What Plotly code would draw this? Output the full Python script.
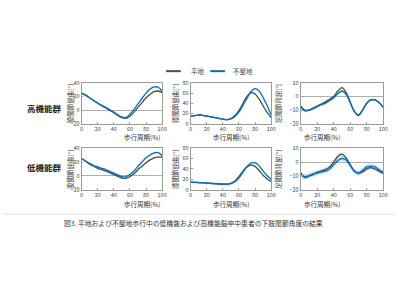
import plotly.graph_objects as go

# ---------------- data ----------------
cycle = [0, 5, 10, 15, 20, 25, 30, 35, 40, 45, 50, 55, 60, 65, 70, 75, 80, 85, 90, 95, 100]
x_ticks = [0, 20, 40, 60, 80, 100]

series_names = ["平地", "不整地"]
row_labels = ["高機能群", "低機能群"]
y_titles = ["股関節屈曲[°]", "膝関節屈曲[°]", "足関節背屈[°]"]
y_ranges = [[-20, 40], [0, 80], [-20, 10]]
y_ticks = [[-20, 0, 20, 40], [0, 20, 40, 60, 80], [-20, -10, 0, 10]]

# high function group
hi_hip_flat = [25, 22, 18, 14, 10, 6.5, 3, -0.5, -4, -8, -11, -12, -9, -3, 4, 11, 18, 23, 27, 28, 26]
hi_hip_rough = [25, 22, 18, 14, 10.5, 7, 4, 0.5, -3, -7, -10, -11, -6, 1, 9, 17, 25, 31, 34, 33.5, 28]
hi_knee_flat = [15, 16, 17, 16.5, 15, 13.5, 12, 10.5, 9, 8, 10, 16, 26, 40, 54, 61, 58, 48, 35, 22, 12]
hi_knee_rough = [15, 16, 17, 16.5, 15, 13.5, 12, 10.5, 9, 8, 9.5, 14, 23, 36, 50, 63, 68.5, 64, 51, 35, 17]
hi_ankle_flat = [-7.5, -10.5, -10, -8.5, -7, -5.5, -4, -2, 0, 4, 6.5, 3, -4, -11, -14, -10, -5, -2.5, -2.5, -4.5, -8]
hi_ankle_rough = [-7, -10, -10, -9, -7.5, -6, -5, -3, -1, 2, 4, 1.5, -4.5, -11, -13.5, -10, -5, -2.5, -2.5, -4.5, -8]

# low function group
lo_hip_flat = [25, 21, 17, 14, 11, 9, 7, 4.5, 2, -0.5, -3, -3.5, -1, 3, 9, 14, 19, 23, 26, 27, 27]
lo_hip_rough = [25, 21.5, 18, 15, 13, 11, 9, 6.5, 4, 1.5, -1, -1, 2, 7, 14, 20, 26, 30, 33, 33.5, 29]
lo_knee_flat = [15, 14.5, 14, 13.5, 13, 12.5, 12, 11.5, 11, 11, 12.5, 17, 26, 36, 44, 47.5, 45, 37, 28, 21, 16]
lo_knee_rough = [15, 14.5, 14, 13.5, 13, 12.5, 12, 11.5, 11, 11, 12, 15.5, 23, 34, 45, 51, 52, 46, 36, 27, 20]
lo_ankle_flat = [-8, -11, -10, -9, -7.5, -6.5, -5.5, -3.5, 0, 4, 5.6, 3, -2, -6.5, -8, -7, -5, -4, -5, -6.5, -8]
lo_ankle_rough = [-9, -10.5, -10, -8.5, -8, -7, -6.5, -5, -2, 1, 2.5, 1.5, -2.5, -6.5, -8, -6, -3.5, -3, -3.5, -5.5, -7.5]

# band half-widths per panel: [flat, rough]
hi_sd = [[0.8, 1.0], [1.2, 1.5], [0.6, 0.9]]
lo_sd = [[1.0, 1.3], [1.2, 2.0], [1.3, 2.0]]

panels = [
    [(hi_hip_flat, hi_hip_rough), (hi_knee_flat, hi_knee_rough), (hi_ankle_flat, hi_ankle_rough)],
    [(lo_hip_flat, lo_hip_rough), (lo_knee_flat, lo_knee_rough), (lo_ankle_flat, lo_ankle_rough)],
]
sds = [hi_sd, lo_sd]

# ---------------- style ----------------
W, H = 400, 300
FONT = "Noto Sans CJK JP"
col_line = ["#4d4d4d", "#0072BD"]
col_band = ["rgba(80,80,80,0.18)", "rgba(0,114,189,0.16)"]
x_px = [(81, 163), (192, 274), (304, 388)]
y_px = [(81, 123), (148, 191)]
ylab_px = [62, 176, 288]


def px2x(p):
    return p / W


def px2y(p):
    return 1 - p / H


fig = go.Figure()
annotations = []
shapes = []

for r in range(2):
    for c in range(3):
        idx = r * 3 + c + 1
        xa = "x" if idx == 1 else f"x{idx}"
        ya = "y" if idx == 1 else f"y{idx}"
        flat, rough = panels[r][c]
        for s, vals in enumerate([flat, rough]):
            sd = sds[r][c][s]
            upper = [v + sd for v in vals]
            lower = [v - sd for v in vals]
            fig.add_trace(go.Scatter(x=cycle, y=upper, mode="lines", line=dict(width=0, shape="spline"),
                                     xaxis=xa, yaxis=ya, showlegend=False, hoverinfo="skip"))
            fig.add_trace(go.Scatter(x=cycle, y=lower, mode="lines", line=dict(width=0, shape="spline"),
                                     fill="tonexty", fillcolor=col_band[s],
                                     xaxis=xa, yaxis=ya, showlegend=False, hoverinfo="skip"))
        for s, vals in enumerate([flat, rough]):
            fig.add_trace(go.Scatter(x=cycle, y=vals, mode="lines", name=series_names[s],
                                     line=dict(color=col_line[s], width=1.3, shape="spline"),
                                     xaxis=xa, yaxis=ya, showlegend=False))
        axx = dict(domain=[px2x(x_px[c][0]), px2x(x_px[c][1])], range=[0, 100], tickvals=x_ticks,
                   showline=True, mirror=True, linecolor="#9a9a9a", linewidth=0.8,
                   ticks="inside", ticklen=2, tickcolor="#9a9a9a", showgrid=False, zeroline=False,
                   tickfont=dict(size=5.5, color="#444", family=FONT), anchor=ya)
        axy = dict(domain=[px2y(y_px[r][1]), px2y(y_px[r][0])], range=y_ranges[c], tickvals=y_ticks[c],
                   showline=True, mirror=True, linecolor="#9a9a9a", linewidth=0.8,
                   ticks="inside", ticklen=2, tickcolor="#9a9a9a", showgrid=False,
                   zeroline=(c != 1), zerolinecolor="#b0b0b0", zerolinewidth=0.8,
                   tickfont=dict(size=5.5, color="#444", family=FONT), anchor=xa)
        fig.layout["xaxis" if idx == 1 else f"xaxis{idx}"] = axx
        fig.layout["yaxis" if idx == 1 else f"yaxis{idx}"] = axy
        # x title
        annotations.append(dict(x=px2x((x_px[c][0] + x_px[c][1]) / 2), y=px2y(y_px[r][1] + 14),
                                xref="paper", yref="paper", text="歩行周期(%)", showarrow=False,
                                font=dict(size=6.5, color="#333", family=FONT), yanchor="middle"))
        # y title
        annotations.append(dict(x=px2x(ylab_px[c]), y=px2y((y_px[r][0] + y_px[r][1]) / 2),
                                xref="paper", yref="paper", text=y_titles[c], textangle=-90,
                                showarrow=False, font=dict(size=6.5, color="#333", family=FONT)))
    annotations.append(dict(x=px2x(23), y=px2y([99, 167][r]), xref="paper", yref="paper",
                            text="<b>" + row_labels[r] + "</b>", showarrow=False,
                            font=dict(size=8.5, color="#222", family=FONT)))

# legend (drawn manually)
leg = [(167, 182, 190), (212, 227, 233)]
for s in range(2):
    x0, x1, tx = leg[s]
    shapes.append(dict(type="line", xref="paper", yref="paper", x0=px2x(x0), x1=px2x(x1),
                       y0=px2y(69), y1=px2y(69), line=dict(color=col_line[s], width=2)))
    annotations.append(dict(x=px2x(tx), y=px2y(69), xref="paper", yref="paper", text=series_names[s],
                            xanchor="left", yanchor="middle", showarrow=False,
                            font=dict(size=6.5, color="#444", family=FONT)))

# separator + caption
shapes.append(dict(type="line", xref="paper", yref="paper", x0=0, x1=1, y0=px2y(216), y1=px2y(216),
                   line=dict(color="#e2e2e2", width=1)))
annotations.append(dict(x=px2x(195), y=px2y(225), xref="paper", yref="paper",
                        text="図3. 平地および不整地歩行中の低機能および高機能脳卒中患者の下肢関節角度の結果",
                        showarrow=False, yanchor="middle", font=dict(size=6.8, color="#333", family=FONT)))

fig.update_layout(width=W, height=H, margin=dict(l=0, r=0, t=0, b=0),
                  paper_bgcolor="white", plot_bgcolor="white",
                  annotations=annotations, shapes=shapes, showlegend=False,
                  font=dict(family=FONT))

fig.write_html("out.html", include_plotlyjs=True, config={"displayModeBar": False})
